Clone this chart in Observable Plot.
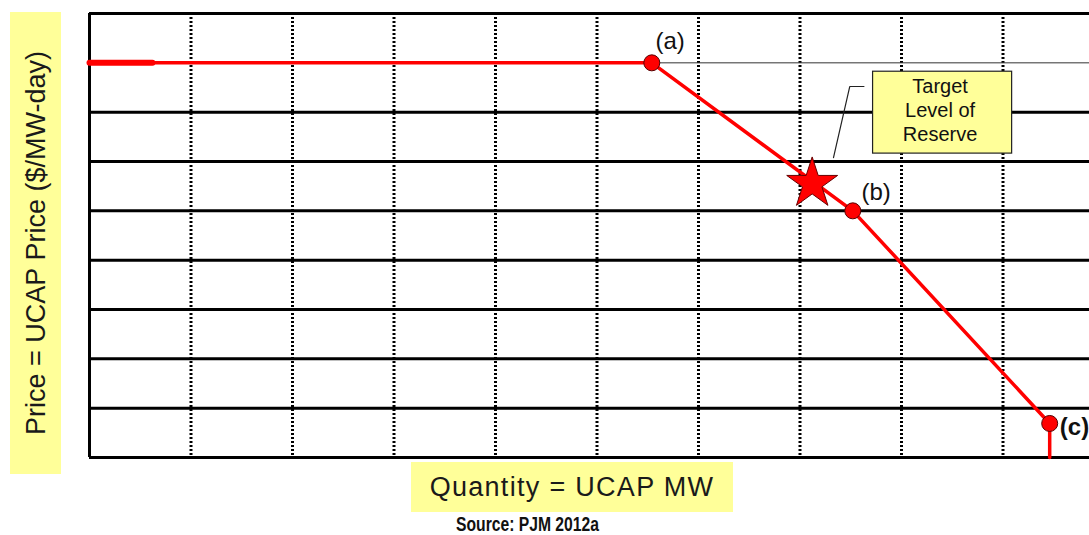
<!DOCTYPE html>
<html>
<head>
<meta charset="utf-8">
<script src="https://cdn.jsdelivr.net/npm/d3@7"></script>
<script src="https://cdn.jsdelivr.net/npm/@observablehq/plot@0.6"></script>
<style>
  html, body { margin: 0; padding: 0; background: #fff; overflow: hidden; }
  #wrap { position: relative; width: 1089px; height: 535px; overflow: hidden; font-family: Arial, "Liberation Sans", sans-serif; }
  #chart { position: absolute; left: 0; top: 0; width: 1105px; }
  #chart svg { max-width: none !important; }
  .ybox { position: absolute; left: 10px; top: 12px; width: 51px; height: 462px; background: #ffff99; }
  .ybox span { position: absolute; left: 50%; top: 50%; transform: translate(-50%, -50%) rotate(-90deg); white-space: nowrap; font-size: 27px; color: #1a1a1a; }
  .xbox { position: absolute; left: 411px; top: 462px; width: 322px; height: 50px; background: #ffff99; text-align: center; line-height: 50px; font-size: 27px; letter-spacing: 1.3px; color: #1a1a1a; white-space: nowrap; }
  .src { position: absolute; left: 527px; top: 512px; font-size: 20px; line-height: 24px; font-weight: bold; color: #111; white-space: nowrap; font-family: Arial, "Liberation Sans", sans-serif; transform-origin: 0 50%; }
</style>
</head>
<body>
<div id="wrap">
  <div id="chart"></div>
  <div class="ybox"><span id="ylab"></span></div>
  <div class="xbox" id="xlab"></div>
  <div class="src" id="src"></div>
</div>
<script>
// ---- data ----
const yLabel = "Price = UCAP Price ($/MW-day)";
const xLabel = "Quantity = UCAP MW";
const source = "Source: PJM 2012a";

const gridXs = [1, 2, 3, 4, 5, 6, 7, 8, 9];
const gridYsThick = [0, 1, 2, 3, 4, 5, 6, 7, 9];
const gridYsThin = [8];

const curveX = [0, 5.54, 7.52, 9.46, 9.46];
const curveY = [8, 8, 5, 0.69, 0];
const capX = [0, 0.62];
const capY = [8, 8];

const pointNames = ["(a)", "(b)", "(c)"];
const pointX = [5.54, 7.52, 9.46];
const pointY = [8, 5, 0.69];
const labelX = [5.72, 7.75, 9.56];
const labelY = [8.43, 5.37, 0.61];

const starX = [7.12];
const starY = [5.55];

const calloutLines = ["Target", "Level of", "Reserve"];
const calloutTextX = [8.38, 8.38, 8.38];
const calloutTextY = [7.52, 7.03, 6.54];
const boxX1 = 7.72, boxX2 = 9.09, boxY1 = 6.16, boxY2 = 7.82;
const leaderX = [7.63, 7.49, 7.33];
const leaderY = [7.52, 7.52, 6.08];

// ---- build ----
const curve = curveX.map((x, i) => ({x, y: curveY[i]}));
const cap = capX.map((x, i) => ({x, y: capY[i]}));
const pts = pointNames.map((n, i) => ({n, x: pointX[i], y: pointY[i], lx: labelX[i], ly: labelY[i]}));
const star = starX.map((x, i) => ({x, y: starY[i]}));
const callout = calloutLines.map((t, i) => ({t, x: calloutTextX[i], y: calloutTextY[i]}));
const leader = leaderX.map((x, i) => ({x, y: leaderY[i]}));
const FONT = "Arial, 'Liberation Sans', sans-serif";

const chart = Plot.plot({
  width: 1105,
  height: 535,
  marginTop: 13,
  marginBottom: 78,
  marginLeft: 89,
  marginRight: 1,
  style: {background: "transparent", fontFamily: FONT, maxWidth: "none"},
  x: {domain: [0, 10], axis: null},
  y: {domain: [0, 9], axis: null},
  marks: [
    Plot.ruleX(gridXs, {x: d => d, stroke: "#000", strokeWidth: 3, strokeDasharray: "2,2"}),
    Plot.ruleY(gridYsThin, {y: d => d, stroke: "#333", strokeWidth: 1}),
    Plot.ruleY(gridYsThick, {y: d => d, stroke: "#000", strokeWidth: 3}),
    Plot.ruleX([0], {stroke: "#000", strokeWidth: 3}),
    Plot.rect([{}], {x1: boxX1, x2: boxX2, y1: boxY1, y2: boxY2, fill: "#ffff99", stroke: "#222", strokeWidth: 1.2}),
    Plot.text(callout, {x: "x", y: "y", text: "t", fontSize: 20, fill: "#111", fontFamily: FONT}),
    Plot.line(leader, {x: "x", y: "y", stroke: "#222", strokeWidth: 1.2}),
    Plot.line(cap, {x: "x", y: "y", stroke: "#ff0000", strokeWidth: 6}),
    Plot.line(curve, {x: "x", y: "y", stroke: "#ff0000", strokeWidth: 3.5, strokeLinejoin: "round"}),
    Plot.dot(star, {x: "x", y: "y", symbol: "star", r: 16, fill: "#ff0000", stroke: "#660000", strokeWidth: 1}),
    Plot.dot(pts, {x: "x", y: "y", r: 8, fill: "#ff0000", stroke: "#550000", strokeWidth: 1}),
    Plot.text(pts.filter(d => d.n !== "(c)"), {x: "lx", y: "ly", text: "n", fontSize: 24, fill: "#111", fontFamily: FONT, textAnchor: "middle"}),
    Plot.text(pts.filter(d => d.n === "(c)"), {x: "lx", y: "ly", text: "n", fontSize: 24, fill: "#111", fontFamily: FONT, fontWeight: "bold", textAnchor: "start"})
  ]
});
document.getElementById("chart").appendChild(chart);
document.getElementById("ylab").textContent = yLabel;
document.getElementById("xlab").textContent = xLabel;
const src = document.getElementById("src");
src.textContent = source;
// condensed look: squeeze the bold caption to the reference's width (~143px), centred at x≈527
const w = src.getBoundingClientRect().width;
const s = 143 / w;
src.style.left = (527 - 143 / 2) + "px";
src.style.transform = `scaleX(${s})`;
</script>
</body>
</html>
